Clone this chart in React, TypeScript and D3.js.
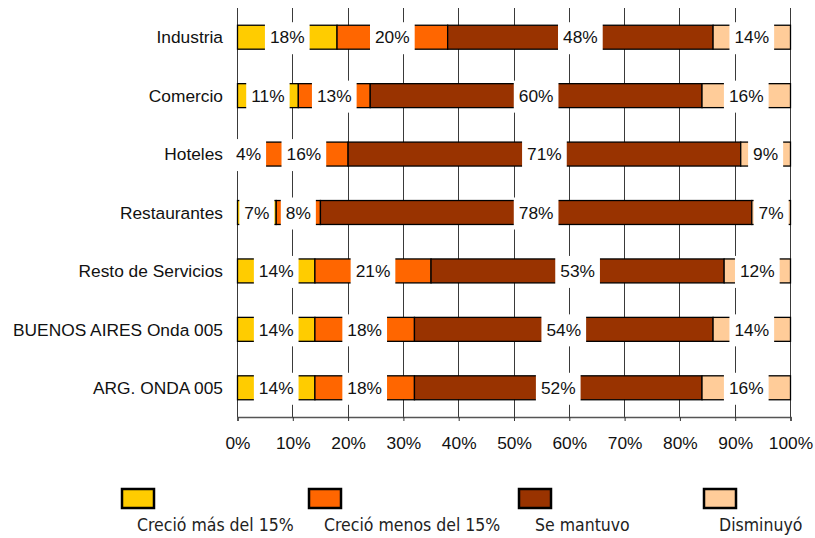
import React, { useEffect, useRef } from "react";
import * as d3 from "d3";

// categories (top to bottom)
const categories = [
  "Industria",
  "Comercio",
  "Hoteles",
  "Restaurantes",
  "Resto de Servicios",
  "BUENOS AIRES Onda 005",
  "ARG. ONDA 005",
];

// series values (%)
const crecioMas = [18, 11, 4, 7, 14, 14, 14];
const crecioMenos = [20, 13, 16, 8, 21, 18, 18];
const seMantuvo = [48, 60, 71, 78, 53, 54, 52];
const disminuyo = [14, 16, 9, 7, 12, 14, 16];

const seriesNames = ["Creció más del 15%", "Creció menos del 15%", "Se mantuvo", "Disminuyó"];
const seriesColors = ["#FFCC00", "#FF6600", "#993300", "#FFCC99"];
const tickValues = [0, 10, 20, 30, 40, 50, 60, 70, 80, 90, 100];

const App = () => {
  const ref = useRef<SVGSVGElement>(null);

  useEffect(() => {
    const svg = d3.select(ref.current);
    svg.selectAll("*").remove();

    const font = "'Liberation Sans', Arial, sans-serif";
    const fontSize = 17.33;

    const x = d3.scaleLinear().domain([0, 100]).range([237.5, 790.5]);
    const y = d3.scaleBand().domain(categories).range([8, 417]).paddingInner(0.59).paddingOuter(0.295);

    const rows = categories.map((c, i) => ({
      cat: c,
      vals: [crecioMas[i], crecioMenos[i], seMantuvo[i], disminuyo[i]],
    }));

    // vertical gridlines
    svg
      .append("g")
      .selectAll("line")
      .data(tickValues)
      .enter()
      .append("line")
      .attr("x1", (d) => x(d))
      .attr("x2", (d) => x(d))
      .attr("y1", 8)
      .attr("y2", 417)
      .attr("stroke", "#3a3a3a")
      .attr("stroke-width", 1)
      .attr("shape-rendering", "crispEdges");

    // x axis
    const axis = svg
      .append("g")
      .attr("transform", "translate(0,417)")
      .call(d3.axisBottom(x).tickValues(tickValues).tickSize(4).tickFormat((d) => `${d}%`));
    axis.select(".domain").attr("stroke", "#555").attr("stroke-width", 1.5);
    axis.selectAll(".tick line").attr("stroke", "#333");
    axis
      .selectAll("text")
      .attr("font-family", font)
      .attr("font-size", fontSize)
      .attr("fill", "#111")
      .attr("dy", "1.45em");

    // bars
    rows.forEach((r) => {
      let acc = 0;
      const g = svg.append("g");
      r.vals.forEach((v, k) => {
        g.append("rect")
          .attr("x", x(acc))
          .attr("y", y(r.cat)!)
          .attr("width", x(acc + v) - x(acc))
          .attr("height", y.bandwidth())
          .attr("fill", seriesColors[k])
          .attr("stroke", "#000")
          .attr("stroke-width", 1.3);
        acc += v;
      });
    });

    // data labels with white boxes
    rows.forEach((r) => {
      let acc = 0;
      const cy = y(r.cat)! + y.bandwidth() / 2;
      r.vals.forEach((v) => {
        const cx = x(acc + v / 2);
        acc += v;
        const g = svg.append("g");
        const rect = g.append("rect").attr("fill", "#fff");
        const t = g
          .append("text")
          .attr("x", cx)
          .attr("y", cy)
          .attr("dy", "0.36em")
          .attr("text-anchor", "middle")
          .attr("font-family", font)
          .attr("font-size", fontSize)
          .attr("fill", "#111")
          .text(`${v}%`);
        const w = (t.node() as SVGTextElement).getComputedTextLength();
        rect
          .attr("x", cx - w / 2 - 5)
          .attr("y", cy - 15)
          .attr("width", w + 10)
          .attr("height", 32);
      });
    });

    // category labels
    svg
      .append("g")
      .selectAll("text")
      .data(categories)
      .enter()
      .append("text")
      .attr("x", 223)
      .attr("y", (d) => y(d)! + y.bandwidth() / 2)
      .attr("dy", "0.36em")
      .attr("text-anchor", "end")
      .attr("font-family", font)
      .attr("font-size", fontSize)
      .attr("fill", "#111")
      .text((d) => d);

    // legend
    const legendX = [122, 309, 519, 704];
    const legendTextX = [137, 324, 535, 719];
    const lg = svg.append("g");
    seriesNames.forEach((name, k) => {
      lg.append("rect")
        .attr("x", legendX[k])
        .attr("y", 489)
        .attr("width", 32)
        .attr("height", 19)
        .attr("fill", seriesColors[k])
        .attr("stroke", "#000")
        .attr("stroke-width", 2.5);
      lg.append("text")
        .attr("x", legendTextX[k])
        .attr("y", 531)
        .attr("font-family", "'DejaVu Sans Condensed', 'DejaVu Sans', sans-serif")
        .attr("font-stretch", "condensed")
        .attr("font-size", 17.5)
        .attr("fill", "#222")
        .text(name);
    });
  }, []);

  return (
    <svg
      ref={ref}
      width={815}
      height={538}
      style={{ position: "absolute", left: 0, top: 0, background: "#fff" }}
    />
  );
};

export default App;
